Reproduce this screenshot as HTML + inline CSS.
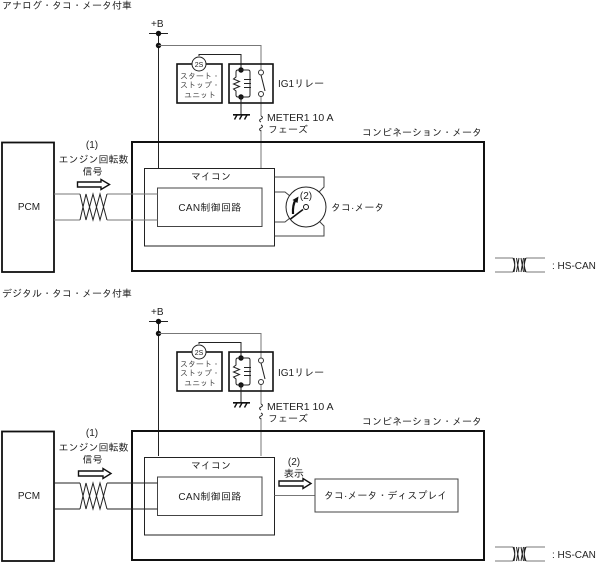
<!DOCTYPE html>
<html><head><meta charset="utf-8"><style>
html,body{margin:0;padding:0;background:#fff}
svg{display:block}
text{font-family:"Liberation Sans","IPAGothic","Noto Sans CJK JP",sans-serif;font-size:10px;fill:#222}
.s{font-size:8px;fill:#444}
.m{text-anchor:middle}
.k{fill:none;stroke:#222;stroke-width:1}
.g{fill:none;stroke:#777;stroke-width:1}
.t{fill:none;stroke:#111;stroke-width:2}
.b{fill:none;stroke:#111;stroke-width:1.6}
.w{fill:none;stroke:#444;stroke-width:1}
</style></head><body>
<svg width="601" height="563" viewBox="0 0 601 563" xmlns="http://www.w3.org/2000/svg">
<text x="2" y="9">アナログ・タコ・メータ付車</text>
<text x="2" y="297">デジタル・タコ・メータ付車</text>

<!-- TOP relay -->
<g>
<text x="151" y="27">+B</text>
<path class="k" d="M149 33.5H168M158.500 33.500V168"/>
<circle cx="158.500" cy="33.500" r="2.700" fill="#111"/><circle cx="158.500" cy="45.500" r="2.700" fill="#111"/>
<path class="g" d="M158.500 45.500H261V70M261 96V116M261 130V168"/>
<path class="k" d="M199 56V54.500H241V70"/>
<rect class="b" x="177" y="64" width="45" height="39"/>
<rect class="b" x="229" y="64" width="44" height="39"/>
<circle cx="199" cy="64" r="7" fill="#fff" stroke="#222"/>
<text class="m" x="199" y="67" style="font-size:7px">2S</text>
<text class="s m" x="200" y="79">スタート・</text>
<text class="s m" x="200" y="88">ストップ・</text>
<text class="s m" x="200" y="98">ユニット</text>
<circle cx="241" cy="70" r="2.700" fill="#111"/><circle cx="241" cy="97" r="2.700" fill="#111"/>
<path class="k" d="M241 70H238Q236 70 236 72V77L233.500 79L239.500 81.500L233.500 84L239.500 86.500L233.500 89L236 91V95Q236 97 238 97H248Q250 97 250 95V72Q250 70 248 70H241"/>
<path class="k" d="M244 79.500H251M244 83.500H251M244 87.500H251"/>
<path class="k" d="M241 97V114"/>
<path d="M233 114.800H250" stroke="#111" stroke-width="1.600"/>
<path d="M237 115L234.500 119.500M242 115L239.500 119.500M247 115L244.500 119.500" stroke="#111" stroke-width="1.400" fill="none"/>
<circle cx="261" cy="72.500" r="2.500" fill="#fff" stroke="#333"/><circle cx="261" cy="94" r="2.500" fill="#fff" stroke="#333"/>
<path class="k" d="M261 75L265 91"/>
<path d="M261 116q3 1.500 0 3q-3 1.500 0 3M261 125q3 1.500 0 3q-3 1.500 0 3" stroke="#333" fill="none"/>
<text x="278" y="87">IG1リレー</text>
<text x="267" y="121" style="font-size:10.500px">METER1 10 A</text>
<text x="268" y="133">フェーズ</text>
</g>

<!-- TOP main -->
<g>
<rect class="t" x="132" y="142" width="352" height="129"/>
<rect class="b" x="2" y="142.500" width="52" height="129.500" style="stroke-width:1.800"/>
<rect class="k" x="144.500" y="168.500" width="130" height="77.500"/>
<rect class="w" x="157.500" y="188" width="104.500" height="38.500"/>
<text class="m" x="29" y="210">PCM</text>
<text class="m" x="211" y="180">マイコン</text>
<text class="m" x="210" y="211" style="letter-spacing:.3px">CAN制御回路</text>
<text x="362" y="136">コンビネーション・メータ</text>
<text class="m" x="92" y="148">(1)</text>
<text class="m" x="93.500" y="163">エンジン回転数</text>
<text class="m" x="92.500" y="175">信号</text>
<path class="b" d="M77.500 182H101V179.500L109.500 184.500L101 189.500V187H77.500Z" style="stroke-width:1.400"/>
<path class="g" d="M54 194H80M54 220H80M107 194H157.500M107 220H157.500"/>
<path class="k" d="M80 220L86 194L93 220L100 194L107 220M80 194L86 220L93 194L100 220L107 194"/>
<path class="w" d="M274.500 177H324V187L319 192M275 192H285L290 196M275 222H285L290 218M274.500 236H324V226L319 221"/>
<circle cx="306" cy="207" r="20" fill="#fff" stroke="#222"/>
<path d="M290.500 219L303 209.500" stroke="#111" stroke-width="1.600"/>
<path d="M293 214Q292.500 205 295.500 200" stroke="#111" stroke-width="2.200" fill="none"/>
<path d="M292.500 200L298.500 196.500L297.500 203Z" fill="#111"/>
<circle cx="306" cy="207" r="2.500" fill="#fff" stroke="#111"/>
<text class="m" x="306" y="199">(2)</text>
<text x="331" y="211">タコ·メータ</text>
</g>

<!-- legend top -->
<g>
<path class="g" d="M495 258H513M495 272H513M526 258H545M526 272H545"/>
<path class="k" d="M513 272Q516 265 514 258M513 258Q516 265 514 272M516.500 258L519 272M519 258L516.500 272M521 258L523.500 272M523.500 258L521 272M526 272Q523 265 525 258M526 258Q523 265 525 272"/>
<text x="552" y="269">: HS-CAN</text>
</g>

<!-- BOTTOM relay -->
<g transform="translate(0,288)">
<text x="151" y="27">+B</text>
<path class="k" d="M149 33.500H168M158.500 33.500V168"/>
<circle cx="158.500" cy="33.500" r="2.700" fill="#111"/><circle cx="158.500" cy="45.500" r="2.700" fill="#111"/>
<path class="g" d="M158.500 45.500H261V70M261 96V116M261 130V168"/>
<path class="k" d="M199 56V54.500H241V70"/>
<rect class="b" x="177" y="64" width="45" height="39"/>
<rect class="b" x="229" y="64" width="44" height="39"/>
<circle cx="199" cy="64" r="7" fill="#fff" stroke="#222"/>
<text class="m" x="199" y="67" style="font-size:7px">2S</text>
<text class="s m" x="200" y="79">スタート・</text>
<text class="s m" x="200" y="88">ストップ・</text>
<text class="s m" x="200" y="98">ユニット</text>
<circle cx="241" cy="70" r="2.700" fill="#111"/><circle cx="241" cy="97" r="2.700" fill="#111"/>
<path class="k" d="M241 70H238Q236 70 236 72V77L233.500 79L239.500 81.500L233.500 84L239.500 86.500L233.500 89L236 91V95Q236 97 238 97H248Q250 97 250 95V72Q250 70 248 70H241"/>
<path class="k" d="M244 79.500H251M244 83.500H251M244 87.500H251"/>
<path class="k" d="M241 97V114"/>
<path d="M233 114.800H250" stroke="#111" stroke-width="1.600"/>
<path d="M237 115L234.500 119.500M242 115L239.500 119.500M247 115L244.500 119.500" stroke="#111" stroke-width="1.400" fill="none"/>
<circle cx="261" cy="72.500" r="2.500" fill="#fff" stroke="#333"/><circle cx="261" cy="94" r="2.500" fill="#fff" stroke="#333"/>
<path class="k" d="M261 75L265 91"/>
<path d="M261 116q3 1.500 0 3q-3 1.500 0 3M261 125q3 1.500 0 3q-3 1.500 0 3" stroke="#333" fill="none"/>
<text x="278" y="88">IG1リレー</text>
<text x="267" y="122" style="font-size:10.500px">METER1 10 A</text>
<text x="268" y="134">フェーズ</text>
</g>

<!-- BOTTOM main -->
<g transform="translate(0,289)">
<rect class="t" x="132" y="142" width="352" height="129"/>
<rect class="b" x="2" y="142.500" width="52" height="129.500" style="stroke-width:1.800"/>
<rect class="k" x="144.500" y="168.500" width="130" height="77.500"/>
<rect class="w" x="157.500" y="188" width="104.500" height="38.500"/>
<text class="m" x="29" y="210">PCM</text>
<text class="m" x="211" y="180">マイコン</text>
<text class="m" x="210" y="211" style="letter-spacing:.3px">CAN制御回路</text>
<text x="362" y="136">コンビネーション・メータ</text>
<text class="m" x="92" y="147">(1)</text>
<text class="m" x="93.500" y="162">エンジン回転数</text>
<text class="m" x="92.500" y="174">信号</text>
<path class="b" d="M78.500 182H103V179.500L111 184.500L103 189.500V187H78.500Z" style="stroke-width:1.400"/>
<path class="k" d="M54 194H80M54 220H80M107 194H157.500M107 220H157.500"/>
<path class="k" d="M80 220L86 194L93 220L100 194L107 220M80 194L86 220L93 194L100 220L107 194"/>
<path class="g" d="M274.500 206.500H315"/>
<rect class="w" x="315" y="190" width="143" height="33"/>
<text class="m" x="294" y="176">(2)</text>
<text class="m" x="294" y="188">表示</text>
<path class="b" d="M279 195.500H303V193L311 198L303 203V200.500H279Z" transform="translate(0,-3.500)" style="stroke-width:1.400"/>
<text x="324" y="210">タコ·メータ・ディスプレイ</text>
</g>

<!-- legend bottom -->
<g transform="translate(0,289)">
<path class="g" d="M495 258H513M495 272H513M526 258H545M526 272H545"/>
<path class="k" d="M513 272Q516 265 514 258M513 258Q516 265 514 272M516.500 258L519 272M519 258L516.500 272M521 258L523.500 272M523.500 258L521 272M526 272Q523 265 525 258M526 258Q523 265 525 272"/>
<text x="552" y="269">: HS-CAN</text>
</g>
</svg>
</body></html>
